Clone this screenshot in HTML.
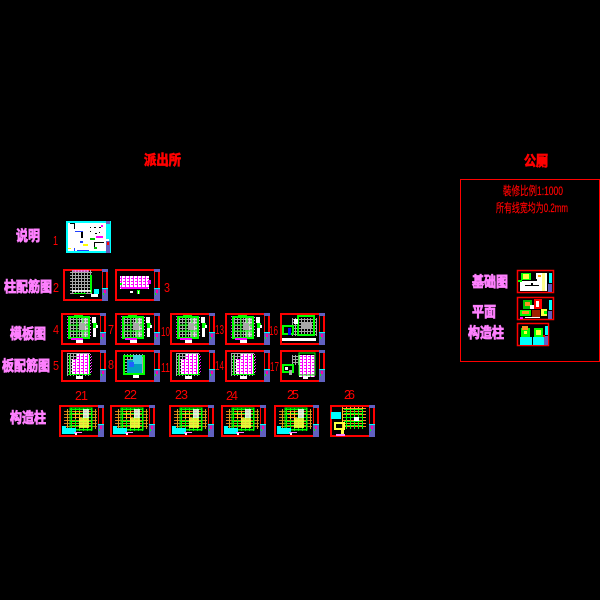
<!DOCTYPE html>
<html><head><meta charset="utf-8"><style>
html,body{margin:0;padding:0;background:#000;width:600px;height:600px;overflow:hidden}
svg{display:block}
text{font-family:"Liberation Sans","Noto Sans CJK SC",sans-serif}
.p{fill:#ff80ff;stroke:#ff80ff;stroke-width:.8;font-weight:700;font-size:14.5px}
.r{fill:#ff0000;stroke:#ff0000;stroke-width:.8;font-weight:700;font-size:14px}
.n{fill:#ff0000;font-size:12.500px}
.t{fill:#ff0000;stroke:#ff0000;stroke-width:.2;font-size:12px}
</style></head><body>
<svg width="600" height="600" viewBox="0 0 600 600" xmlns="http://www.w3.org/2000/svg">
<defs>
<pattern id="gg" width="3" height="3" patternUnits="userSpaceOnUse"><path d="M0 .5H3M.5 0V3" stroke="#a8a8a8" stroke-width="1" fill="none"/></pattern>
<pattern id="gn" width="4" height="4" patternUnits="userSpaceOnUse"><path d="M0 .5H4M.5 0V4" stroke="#00ff00" stroke-width="1" fill="none"/></pattern>
<pattern id="gy" width="4" height="3" patternUnits="userSpaceOnUse"><path d="M0 .5H4" stroke="#ff9020" stroke-width="1"/><path d="M.5 0V3" stroke="#ffc020" stroke-width="1"/></pattern>
<pattern id="mg" width="4" height="3" patternUnits="userSpaceOnUse"><rect width="4" height="3" fill="#fff"/><rect width="3" height="1" fill="#ff00ff"/><rect x="2" y="1" width="1" height="2" fill="#ff00ff"/></pattern>
<pattern id="md" width="2" height="3" patternUnits="userSpaceOnUse"><rect width="1" height="1" fill="#ff00ff"/><rect x="1" y="1" width="1" height="1" fill="#ff80ff"/></pattern>
<g id="f">
<rect x="1" y="1" width="43" height="30" fill="#000" stroke="#ff0000" stroke-width="2"/>
<rect x="39" y="2" width="1" height="18" fill="#ff0000"/>
<rect x="39" y="0" width="6" height="3" fill="#6060c0"/>
<rect x="39" y="19" width="6" height="1" fill="#00ffff"/>
<rect x="39" y="20" width="6" height="12" fill="#6060c0"/>
<rect x="41" y="21" width="2" height="3" fill="#ff00a0"/>
<rect x="40" y="24" width="1" height="2" fill="#00ff00"/>
</g>
<g id="a"><use href="#f"/>
<rect x="6" y="3" width="2" height="22" fill="url(#md)"/><rect x="28" y="4" width="2" height="20" fill="url(#md)"/>
<rect x="9" y="4" width="19" height="21" fill="url(#gg)"/>
<rect x="20" y="4" width="7" height="20" fill="#fff" opacity=".6"/>
<rect x="8" y="4" width="20" height="21" fill="none" stroke="#00ff00" stroke-width="2"/>
<rect x="13" y="2" width="9" height="3" fill="#00ff00"/>
<path d="M16 5V24M22 5V24M8 12H28M8 18H28" stroke="#00ff00" stroke-width="1"/>
<rect x="18" y="10" width="6" height="7" fill="#a8a8a8"/>
<rect x="10" y="25" width="12" height="2" fill="#ff00ff"/>
<rect x="15" y="27" width="7" height="3" fill="#fff"/>
<rect x="31" y="4" width="4" height="6" fill="#fff"/><rect x="32" y="10" width="4" height="5" fill="#00ff00"/><rect x="32" y="15" width="3" height="9" fill="#fff"/><rect x="35" y="12" width="2" height="3" fill="#fff"/>
</g>
<g id="b"><use href="#f"/>
<rect x="6" y="3" width="23" height="23" fill="url(#gg)"/>
<rect x="11" y="9" width="18" height="15" fill="url(#mg)"/>
<rect x="16" y="4" width="12" height="11" fill="url(#mg)"/>
<rect x="29" y="4" width="2" height="20" fill="url(#md)"/>
<rect x="8" y="5" width="1" height="20" fill="#00ff00"/><rect x="7" y="24" width="23" height="1" fill="#00ff00"/><rect x="28" y="5" width="1" height="20" fill="#00ff00"/>
<rect x="15" y="26" width="7" height="3" fill="#fff"/>
</g>
<g id="c"><use href="#f"/>
<rect x="5" y="4" width="33" height="20" fill="url(#gy)" opacity=".85"/>
<rect x="11" y="3" width="22" height="23" fill="url(#gn)"/>
<rect x="11" y="3" width="22" height="22" fill="none" stroke="#00ff00"/>
<rect x="14" y="6" width="9" height="8" fill="url(#gy)"/>
<rect x="20" y="13" width="10" height="10" fill="#ffff40" opacity=".85"/>
<rect x="24" y="4" width="6" height="9" fill="#fff" opacity=".8"/>
<rect x="3" y="23" width="14" height="6" fill="#00ffff"/><rect x="3" y="21" width="4" height="8" fill="#00ffff"/>
<rect x="15" y="27" width="8" height="1" fill="#ff80ff"/><rect x="16" y="28" width="2" height="2" fill="#fff"/>
</g>
<g id="k1"><rect x=".5" y=".5" width="36" height="22" fill="#000" stroke="#ff0000" stroke-width="1.5"/>
<rect x="3" y="3" width="27" height="18" fill="#fff"/><rect x="2" y="2" width="18" height="9" fill="#000"/>
<rect x="4" y="3" width="10" height="7" fill="#00ff00"/><rect x="6" y="4" width="6" height="5" fill="#ffff40"/>
<rect x="1" y="10" width="4" height="2" fill="#00ff00"/><rect x="19" y="3" width="5" height="6" fill="#fff"/><rect x="21" y="5" width="3" height="2" fill="#ffa000"/><rect x="25" y="3" width="3" height="18" fill="#ffff40" opacity=".6"/>
<rect x="8" y="15" width="14" height="1" fill="#000"/><rect x="14" y="13" width="2" height="3" fill="#000"/><rect x="32" y="3" width="3" height="10" fill="#00ffff"/><rect x="31" y="14" width="4" height="8" fill="#6060c0"/>
</g>
<g id="k2"><rect x=".5" y=".5" width="36" height="22" fill="#000" stroke="#ff0000" stroke-width="1.5"/>
<rect x="6" y="3" width="9" height="9" fill="#00c000"/><rect x="8" y="5" width="5" height="4" fill="#ff9020"/>
<rect x="17" y="2" width="8" height="10" fill="#ff0000"/><rect x="19" y="4" width="3" height="6" fill="#fff"/><rect x="13" y="8" width="4" height="4" fill="#fff"/>
<rect x="3" y="13" width="11" height="6" fill="#00ff00"/><rect x="5" y="14" width="7" height="3" fill="#ff9020"/>
<rect x="15" y="13" width="8" height="7" fill="#a02000"/><rect x="24" y="12" width="6" height="7" fill="#ffff40"/><rect x="27" y="14" width="3" height="3" fill="#00ff00"/><rect x="3" y="20" width="3" height="2" fill="#ff00ff"/><rect x="8" y="20" width="15" height="1" fill="#fff"/>
<rect x="32" y="3" width="3" height="10" fill="#00ffff"/><rect x="31" y="14" width="4" height="8" fill="#6060c0"/>
</g>
<g id="k3"><rect x=".5" y=".5" width="31" height="22" fill="#000" stroke="#ff0000" stroke-width="1.5"/>
<rect x="3" y="14" width="12" height="8" fill="#00ffff"/><rect x="16" y="14" width="11" height="8" fill="#00ffff"/>
<rect x="4" y="5" width="9" height="9" fill="#00ff00"/><rect x="5" y="3" width="6" height="4" fill="#ff9020"/><rect x="7" y="8" width="3" height="3" fill="#ffff40"/>
<rect x="17" y="5" width="9" height="9" fill="#00ff00"/><rect x="19" y="7" width="5" height="5" fill="#ffff40"/>
<rect x="28" y="3" width="3" height="9" fill="#00ffff"/><rect x="27" y="13" width="4" height="9" fill="#6060c0"/><rect x="26" y="12" width="2" height="2" fill="#ff0000"/>
</g>
</defs>
<rect width="600" height="600" fill="#000"/>

<text class="r" x="144" y="165" textLength="37" lengthAdjust="spacingAndGlyphs">派出所</text>
<text class="r" x="524" y="166" textLength="24" lengthAdjust="spacingAndGlyphs">公厕</text>

<rect x="460.500" y="179.500" width="139" height="182" fill="none" stroke="#ff0000"/>
<text class="t" x="503" y="195" textLength="60" lengthAdjust="spacingAndGlyphs">裝修比例1:1000</text>
<text class="t" x="496" y="212" textLength="72" lengthAdjust="spacingAndGlyphs">所有线宽均为0.2mm</text>

<text class="p" x="16" y="241" textLength="24" lengthAdjust="spacingAndGlyphs">说明</text>
<text class="p" x="4" y="292" textLength="48" lengthAdjust="spacingAndGlyphs">柱配筋图</text>
<text class="p" x="10" y="339" textLength="36" lengthAdjust="spacingAndGlyphs">模板图</text>
<text class="p" x="2" y="371" textLength="48" lengthAdjust="spacingAndGlyphs">板配筋图</text>
<text class="p" x="10" y="423" textLength="36" lengthAdjust="spacingAndGlyphs">构造柱</text>
<text class="p" x="472" y="287" textLength="36" lengthAdjust="spacingAndGlyphs">基础图</text>
<text class="p" x="472" y="317" textLength="24" lengthAdjust="spacingAndGlyphs">平面</text>
<text class="p" x="468" y="338" textLength="36" lengthAdjust="spacingAndGlyphs">构造柱</text>

<!-- 说明 -->
<g transform="translate(66,221)">
<rect x="1" y="1" width="43" height="30" fill="#fff" stroke="#00ffff" stroke-width="2"/>
<rect x="40" y="0" width="4" height="3" fill="#6060c0"/><rect x="40" y="3" width="4" height="15" fill="#00ffff"/><rect x="40" y="20" width="4" height="12" fill="#6060c0"/><rect x="41" y="21" width="2" height="3" fill="#ff0000"/>
<rect x="4" y="2" width="5" height="1" fill="#000"/><rect x="8" y="3" width="1" height="5" fill="#000"/><rect x="9" y="10" width="8" height="1" fill="#2040ff"/><rect x="15" y="11" width="2" height="6" fill="#000"/>
<rect x="14" y="20" width="3" height="2" fill="#2040ff"/><rect x="17" y="23" width="5" height="2" fill="#ffff00"/><rect x="28" y="21" width="10" height="1" fill="#000"/><rect x="28" y="21" width="1" height="6" fill="#000"/>
<rect x="30" y="15" width="7" height="2" fill="#ff00ff"/><rect x="24" y="17" width="5" height="2" fill="#00c000"/><rect x="28" y="26" width="3" height="2" fill="#00c000"/><rect x="35" y="4" width="2" height="2" fill="#ff00ff"/>
<rect x="2" y="27" width="3" height="1" fill="#ffff00"/><rect x="8" y="27" width="1" height="3" fill="#2040ff"/><rect x="11" y="29" width="12" height="1" fill="#2040ff"/><rect x="24" y="6" width="1" height="1" fill="#000"/><rect x="28" y="6" width="2" height="1" fill="#000"/><rect x="33" y="6" width="2" height="1" fill="#000"/><rect x="24" y="10" width="1" height="1" fill="#000"/><rect x="29" y="12" width="2" height="1" fill="#000"/><rect x="33" y="11" width="1" height="1" fill="#000"/>
</g>
<text class="n" x="53" y="245" textLength="5" lengthAdjust="spacingAndGlyphs">1</text>

<!-- 柱配筋 -->
<g transform="translate(63,269)"><use href="#f"/>
<rect x="7" y="1" width="22" height="24" fill="url(#gg)"/><rect x="10" y="1" width="16" height="2" fill="#ff80ff" opacity=".7"/>
<rect x="27" y="6" width="2" height="18" fill="#00ff00"/><rect x="9" y="21" width="19" height="2" fill="#fff" opacity=".8"/><rect x="11" y="24" width="12" height="1" fill="#00ff00"/>
<rect x="31" y="20" width="5" height="5" fill="#00ffff"/><rect x="28" y="25" width="7" height="3" fill="#fff"/><rect x="17" y="27" width="4" height="1" fill="#fff"/>
</g>
<g transform="translate(115,269)"><use href="#f"/>
<rect x="5" y="7" width="29" height="13" fill="url(#mg)"/><rect x="6" y="18" width="27" height="2" fill="#ff00ff"/>
<rect x="33" y="11" width="3" height="4" fill="#ff00ff"/><rect x="5" y="14" width="2" height="2" fill="#00ff00"/>
<rect x="15" y="22" width="3" height="2" fill="#fff"/><rect x="22" y="21" width="3" height="4" fill="#00ff00"/><rect x="23" y="22" width="1" height="3" fill="#fff"/>
</g>
<text class="n" x="53" y="292" textLength="6" lengthAdjust="spacingAndGlyphs">2</text><text class="n" x="164" y="292" textLength="6" lengthAdjust="spacingAndGlyphs">3</text>

<!-- rows -->
<use href="#a" transform="translate(61,313)"/><use href="#a" transform="translate(115,313)"/><use href="#a" transform="translate(170,313)"/><use href="#a" transform="translate(225,313)"/>
<g transform="translate(280,313)"><use href="#f"/>
<rect x="12" y="5" width="25" height="18" fill="url(#gg)"/><rect x="18" y="3" width="16" height="19" fill="none" stroke="#00ff00" stroke-width="2"/>
<rect x="22" y="10" width="10" height="6" fill="#a8a8a8"/><rect x="3" y="13" width="10" height="8" fill="none" stroke="#00ff00" stroke-width="2"/><rect x="8" y="15" width="3" height="7" fill="#0000ff"/>
<rect x="2" y="25" width="34" height="3" fill="#fff"/><rect x="14" y="6" width="4" height="5" fill="#fff"/>
</g>
<use href="#b" transform="translate(61,350)"/>
<g transform="translate(115,350)"><use href="#f"/>
<rect x="8" y="4" width="22" height="20" fill="url(#gg)"/><rect x="9" y="6" width="20" height="18" fill="none" stroke="#00ff00" stroke-width="2"/>
<rect x="12" y="10" width="15" height="13" fill="#00a0c0"/><rect x="18" y="5" width="9" height="9" fill="#40d0e0"/><rect x="14" y="12" width="5" height="5" fill="#2060ff"/><rect x="18" y="25" width="6" height="3" fill="#fff"/>
</g>
<use href="#b" transform="translate(170,350)"/><use href="#b" transform="translate(225,350)"/>
<g transform="translate(280,350)"><use href="#f"/>
<rect x="12" y="5" width="22" height="10" fill="url(#gg)"/><rect x="19" y="5" width="16" height="22" fill="url(#mg)"/><rect x="19" y="3" width="16" height="22" fill="none" stroke="#00ff00"/>
<rect x="3" y="15" width="10" height="7" fill="none" stroke="#00ff00" stroke-width="2"/><rect x="5" y="17" width="3" height="3" fill="#fff"/><rect x="9" y="20" width="3" height="5" fill="#a8a8a8"/><rect x="23" y="26" width="5" height="3" fill="#fff"/>
</g>
<text class="n" x="53" y="334" textLength="6" lengthAdjust="spacingAndGlyphs">4</text><text class="n" x="108" y="334" textLength="6" lengthAdjust="spacingAndGlyphs">7</text><text class="n" x="161" y="336" textLength="9" lengthAdjust="spacingAndGlyphs">10</text><text class="n" x="215" y="334" textLength="9" lengthAdjust="spacingAndGlyphs">13</text><text class="n" x="269" y="335" textLength="9" lengthAdjust="spacingAndGlyphs">16</text>
<text class="n" x="53" y="370" textLength="6" lengthAdjust="spacingAndGlyphs">5</text><text class="n" x="108" y="369" textLength="6" lengthAdjust="spacingAndGlyphs">8</text><text class="n" x="161" y="372" textLength="9" lengthAdjust="spacingAndGlyphs">11</text><text class="n" x="215" y="370" textLength="9" lengthAdjust="spacingAndGlyphs">14</text><text class="n" x="270" y="371" textLength="9" lengthAdjust="spacingAndGlyphs">17</text>

<use href="#c" transform="translate(59,405)"/><use href="#c" transform="translate(110,405)"/><use href="#c" transform="translate(169,405)"/><use href="#c" transform="translate(221,405)"/><use href="#c" transform="translate(274,405)"/>
<g transform="translate(330,405)"><use href="#f"/>
<rect x="12" y="2" width="24" height="22" fill="url(#gy)"/><rect x="14" y="4" width="19" height="20" fill="url(#gn)"/><rect x="24" y="12" width="5" height="4" fill="#fff"/>
<rect x="1" y="7" width="10" height="7" fill="#00ffff"/><rect x="5" y="18" width="9" height="6" fill="none" stroke="#ffff40" stroke-width="2"/><rect x="6" y="29" width="9" height="2" fill="#ff80ff"/><rect x="11" y="24" width="3" height="5" fill="#ffff40"/>
</g>
<text class="n" x="75" y="400" textLength="13" lengthAdjust="spacing">21</text><text class="n" x="124" y="399" textLength="13" lengthAdjust="spacing">22</text><text class="n" x="175" y="399" textLength="13" lengthAdjust="spacing">23</text><text class="n" x="226" y="400" textLength="12" lengthAdjust="spacing">24</text><text class="n" x="287" y="399" textLength="12" lengthAdjust="spacing">25</text><text class="n" x="344" y="399" textLength="11" lengthAdjust="spacing">26</text>

<use href="#k1" transform="translate(517,270)"/><use href="#k2" transform="translate(517,297)"/><use href="#k3" transform="translate(517,323)"/>
</svg>
</body></html>
